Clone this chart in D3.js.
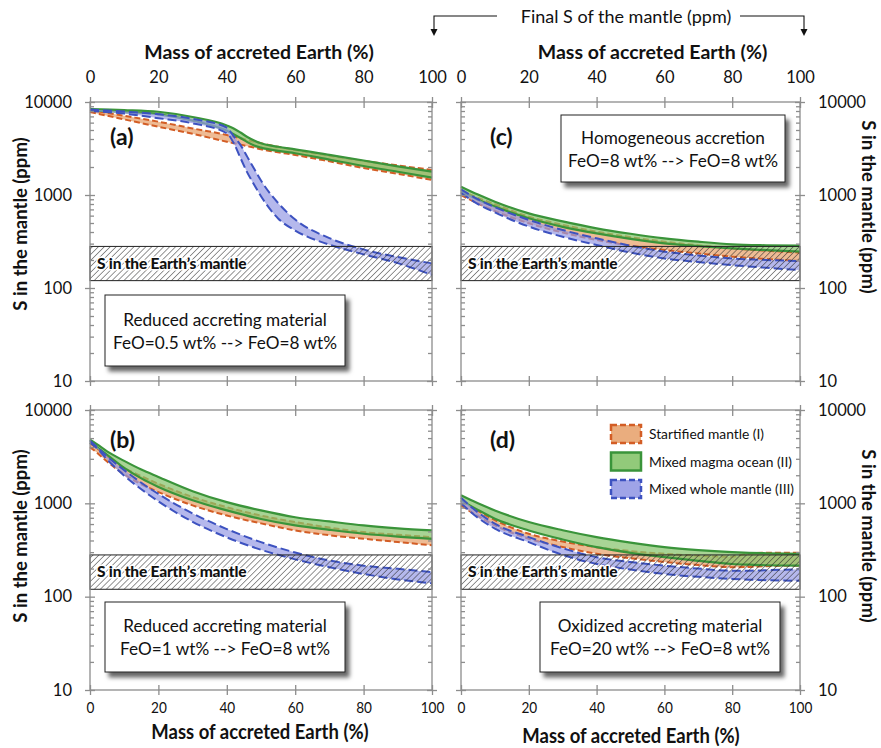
<!DOCTYPE html>
<html><head><meta charset="utf-8">
<script src="https://cdn.jsdelivr.net/npm/d3@7"></script>
<style>
body{margin:0;background:#fff}
svg{display:block}
text{font-family:Lato,"Open Sans",sans-serif;fill:#111}
</style>
</head><body>
<svg id="chart" width="881" height="748"></svg>
<script>
// ---------------- DATA ----------------
const xTicks = [0, 20, 40, 60, 80, 100];
const yTicks = [10, 100, 1000, 10000];
const earthBand = [120, 280];            // S in the Earth's mantle (ppm)

// panel (a)
const xA = [0,10,20,30,40,42,44,46,48,50,55,60,70,80,90,100];
const aOrangeHi = [8200,7100,6140,5200,4420,4250,4080,3900,3750,3600,3300,3050,2650,2330,2080,1860];
const aOrangeLo = [7800,6500,5420,4550,3740,3600,3480,3350,3230,3100,2880,2690,2300,1950,1690,1450];
const aGreenHi  = [8400,8200,7860,6900,5600,5200,4700,4200,3850,3600,3300,3100,2700,2350,2030,1780];
const aGreenLo  = [8100,7800,7370,6300,4900,4500,4100,3700,3400,3230,2980,2810,2400,2050,1780,1540];
const aBlueHi   = [8300,7900,7400,6600,5300,4300,3460,2570,1910,1430,820,545,344,260,215,184];
const aBlueLo   = [8000,7500,6700,5900,4600,3630,2500,1740,1290,970,560,415,292,230,185,138];

// panel (b)
const xB = [0,2,5,10,15,20,30,40,50,60,70,80,90,100];
const bOrangeHi = [4400,3900,3200,2400,1950,1620,1170,910,740,630,550,492,460,435];
const bOrangeLo = [4000,3500,2800,2050,1600,1320,950,740,610,512,455,417,385,355];
const bGreenHi  = [4800,4300,3600,2850,2300,1920,1350,1030,840,710,640,580,540,512];
const bGreenLo  = [4500,4000,3300,2400,1850,1500,1080,840,680,580,520,472,440,417];
const bBlueHi   = [4700,4030,3190,2270,1660,1260,780,530,384,297,244,215,199,183];
const bBlueLo   = [4500,3900,2950,1980,1415,1050,634,432,318,251,207,175,153,139];

// panel (c)
const xC = [0,5,10,20,30,40,50,60,70,80,90,100];
const cOrangeHi = [1120,930,795,585,478,403,352,315,288,267,252,240];
const cOrangeLo = [1000,810,673,496,395,328,285,256,235,217,205,195];
const cGreenHi  = [1230,1010,847,635,520,438,383,342,315,295,288,285];
const cGreenLo  = [1087,890,750,562,455,387,338,302,282,267,255,246];
const cBlueHi   = [1150,900,740,540,420,342,285,246,224,208,200,195];
const cBlueLo   = [1050,800,650,458,355,290,240,208,190,176,165,156];

// panel (d)
const xD = [0,5,10,20,30,40,50,60,70,80,85,90,100];
const dOrangeHi = [1077,830,660,472,390,339,308,288,275,268,290,295,295];
const dOrangeLo = [950,730,580,417,340,288,258,235,218,207,208,212,215];
const dGreenHi  = [1220,1000,840,630,515,435,380,339,315,300,295,292,288];
const dGreenLo  = [1077,850,685,512,410,339,295,265,242,224,220,217,215];
const dBlueHi   = [1150,800,605,435,330,265,235,215,200,190,190,192,197];
const dBlueLo   = [1000,700,535,384,280,224,195,175,163,155,152,150,148];

const seriesNames = ["Startified mantle (I)", "Mixed magma ocean (II)", "Mixed whole mantle (III)"];
const panelLetters = ["(a)", "(b)", "(c)", "(d)"];
const boxTexts = [
  ["Reduced accreting material", "FeO=0.5 wt% --> FeO=8 wt%"],
  ["Reduced accreting material", "FeO=1 wt% --> FeO=8 wt%"],
  ["Homogeneous accretion", "FeO=8 wt% --> FeO=8 wt%"],
  ["Oxidized accreting material", "FeO=20 wt% --> FeO=8 wt%"]
];
const xTitle = "Mass of accreted Earth (%)";
const yTitle = "S in the mantle (ppm)";
const bandLabel = "S in the Earth\u2019s mantle";
const topNote = "Final S of the mantle (ppm)";

// ---------------- LAYOUT / STYLE ----------------
const styles = [
  {fill:"#e8a470", fo:0.75, stroke:"#d35d25", dash:"6,3", w:2},
  {fill:"#86c46c", fo:0.72, stroke:"#3a943a", dash:null, w:2.2},
  {fill:"#959ae4", fo:0.7, stroke:"#3d52c0", dash:"9,4", w:2}
];
const panels = [
  {x0:90, x1:432, y0:102, y1:381, xs:xA, ser:[[aOrangeHi,aOrangeLo],[aGreenHi,aGreenLo],[aBlueHi,aBlueLo]],
   side:"left", topLab:true, botLab:false, letter:[110,137], box:[105,295,240,71], yTitleC:224},
  {x0:90, x1:432, y0:410, y1:690, xs:xB, ser:[[bOrangeHi,bOrangeLo],[bGreenHi,bGreenLo],[bBlueHi,bBlueLo]],
   side:"left", topLab:false, botLab:true, letter:[110,440], box:[105,602,240,70], xTitleC:[260,739], yTitleC:536},
  {x0:461, x1:800, y0:102, y1:381, xs:xC, ser:[[cOrangeHi,cOrangeLo],[cGreenHi,cGreenLo],[cBlueHi,cBlueLo]],
   side:"right", topLab:true, botLab:false, letter:[490,137], box:[561,115,224,67], yTitleC:207},
  {x0:461, x1:800, y0:410, y1:690, xs:xD, ser:[[dOrangeHi,dOrangeLo],[dGreenHi,dGreenLo],[dBlueHi,dBlueLo]],
   side:"right", topLab:false, botLab:true, letter:[490,440], box:[540,602,240,70], xTitleC:[631,743], yTitleC:536}
];
const axisColor = "#8d8d8d";

const svg = d3.select("#chart");
const defs = svg.append("defs");
const pat = defs.append("pattern").attr("id","hatch").attr("patternUnits","userSpaceOnUse")
  .attr("width",4.2).attr("height",4.2).attr("patternTransform","rotate(45)");
pat.append("line").attr("x1",0).attr("y1",0).attr("x2",0).attr("y2",4.2)
  .attr("stroke","#2a2a2a").attr("stroke-width",1);
const filt = defs.append("filter").attr("id","shadow").attr("x","-10%").attr("y","-10%")
  .attr("width","130%").attr("height","150%");
filt.append("feDropShadow").attr("dx",4).attr("dy",5).attr("stdDeviation",2.2)
  .attr("flood-color","#000").attr("flood-opacity",0.6);

const minorVals = [];
[10,100,1000].forEach(d => { for (let m=2;m<10;m++) minorVals.push(m*d); });

panels.forEach((p, pi) => {
  const x = d3.scaleLinear().domain([0,100]).range([p.x0,p.x1]);
  const y = d3.scaleLog().domain([10,10000]).range([p.y1,p.y0]);
  const g = svg.append("g");

  // series bands
  p.ser.forEach((s, si) => {
    const st = styles[si];
    const pts = p.xs.map((xv,i)=>({x:xv, hi:s[0][i], lo:s[1][i]}));
    const area = d3.area().curve(d3.curveMonotoneX).x(d=>x(d.x)).y0(d=>y(d.lo)).y1(d=>y(d.hi));
    g.append("path").attr("d",area(pts)).attr("fill",st.fill).attr("fill-opacity",st.fo);
    ["hi","lo"].forEach(k => {
      const line = d3.line().curve(d3.curveMonotoneX).x(d=>x(d.x)).y(d=>y(d[k]));
      g.append("path").attr("d",line(pts)).attr("fill","none").attr("stroke",st.stroke)
        .attr("stroke-width",st.w).attr("stroke-dasharray",st.dash);
    });
  });

  // Earth's mantle hatched band
  g.append("rect").attr("x",p.x0).attr("y",y(earthBand[1]))
    .attr("width",p.x1-p.x0).attr("height",y(earthBand[0])-y(earthBand[1]))
    .attr("fill","url(#hatch)").attr("stroke","#222").attr("stroke-width",1);
  g.append("text").attr("x",p.x0+7).attr("y",(y(earthBand[0])+y(earthBand[1]))/2+5)
    .attr("font-size",15.5).attr("font-weight",900).attr("letter-spacing",-0.2)
    .attr("fill","#222").attr("stroke","#fff").attr("stroke-width",3)
    .attr("paint-order","stroke").attr("stroke-linejoin","round").text(bandLabel);

  // frame
  g.append("rect").attr("x",p.x0).attr("y",p.y0).attr("width",p.x1-p.x0).attr("height",p.y1-p.y0)
    .attr("fill","none").attr("stroke",axisColor).attr("stroke-width",1.3);

  const styleAxis = sel => { sel.select(".domain").remove();
    sel.selectAll("line").attr("stroke",axisColor).attr("stroke-width",1.3);
    sel.selectAll("text").attr("font-size",16.5).attr("fill","#111").attr("font-family","Lato"); };

  // y axes (left and right), majors crossing, minors inside
  [["left",p.x0,d3.axisLeft],["right",p.x1,d3.axisRight]].forEach(([side,xp,fn]) => {
    const lab = side===p.side;
    g.append("g").attr("transform",`translate(${xp},0)`)
      .call(fn(y).tickValues(yTicks).tickSize(5).tickPadding(13)
        .tickFormat(lab ? d3.format("d") : ""))
      .call(styleAxis);
    g.append("g").attr("transform",`translate(${xp},0)`)
      .call(fn(y).tickValues(yTicks).tickSize(-5).tickFormat("")).call(styleAxis);
    g.append("g").attr("transform",`translate(${xp},0)`)
      .call(fn(y).tickValues(minorVals).tickSize(-4).tickFormat("")).call(styleAxis);
  });
  // x axes (top and bottom)
  g.append("g").attr("transform",`translate(0,${p.y0})`)
    .call(d3.axisTop(x).tickValues(xTicks).tickSize(5).tickPadding(14)
      .tickFormat(p.topLab ? d3.format("d") : "")).call(styleAxis);
  g.append("g").attr("transform",`translate(0,${p.y0})`)
    .call(d3.axisTop(x).tickValues(xTicks).tickSize(-6).tickFormat("")).call(styleAxis);
  const bax = g.append("g").attr("transform",`translate(0,${p.y1})`)
    .call(d3.axisBottom(x).tickValues(xTicks).tickSize(5).tickPadding(7)
      .tickFormat(p.botLab ? d3.format("d") : "")).call(styleAxis);
  bax.selectAll("text").attr("font-size",16).attr("transform","scale(0.85,1)");
  g.append("g").attr("transform",`translate(0,${p.y1})`)
    .call(d3.axisBottom(x).tickValues(xTicks).tickSize(-5).tickFormat("")).call(styleAxis);

  // x titles
  if (p.topLab) {
    g.append("text").attr("x",(p.x0+p.x1)/2 + (pi===0?-2:22)).attr("y",59)
      .attr("text-anchor","middle").attr("font-size",19.5).attr("font-weight",700).text(xTitle);
  }
  if (p.botLab) {
    g.append("text").attr("transform",`translate(${p.xTitleC[0]},${p.xTitleC[1]}) scale(0.88,1)`)
      .attr("text-anchor","middle").attr("font-size",21).attr("font-weight",700).text(xTitle);
  }
  // y titles
  if (p.side==="left") {
    g.append("text").attr("transform",`translate(27,${p.yTitleC}) rotate(-90)`)
      .attr("text-anchor","middle").attr("font-size",18.5).attr("font-weight",700).text(yTitle);
  } else {
    g.append("text").attr("transform",`translate(862,${p.yTitleC}) rotate(90)`)
      .attr("text-anchor","middle").attr("font-size",18.5).attr("font-weight",700).text(yTitle);
  }

  // panel letter
  g.append("text").attr("x",p.letter[0]).attr("y",p.letter[1]+8)
    .attr("font-size",23).attr("font-weight",700).text(panelLetters[pi]);

  // text box
  const [bx,by,bw,bh] = p.box;
  g.append("rect").attr("x",bx).attr("y",by).attr("width",bw).attr("height",bh)
    .attr("fill","#fff").attr("stroke","#222").attr("stroke-width",1).attr("filter","url(#shadow)");
  boxTexts[pi].forEach((t,i) => {
    g.append("text").attr("x",bx+bw/2).attr("y",by+bh/2-5+i*23)
      .attr("text-anchor","middle").attr("font-size",17.2).text(t);
  });
});

// legend (panel d)
const lg = svg.append("g");
seriesNames.forEach((n,i) => {
  const st = styles[i];
  const yy = 425 + i*27.5;
  lg.append("rect").attr("x",611).attr("y",yy).attr("width",30).attr("height",18)
    .attr("fill",st.fill).attr("fill-opacity",0.9).attr("stroke",st.stroke).attr("stroke-width",2.5)
    .attr("stroke-dasharray",st.dash ? "6,3" : null);
  lg.append("text").attr("x",649).attr("y",yy+14).attr("font-size",13.8).text(n);
});

// top annotation
const ann = svg.append("g");
ann.append("text").attr("x",626).attr("y",23).attr("text-anchor","middle").attr("font-size",18).text(topNote);
ann.append("path").attr("d","M497,16 H434 V31").attr("fill","none").attr("stroke","#111").attr("stroke-width",1.1);
ann.append("path").attr("d","M740,16 H804 V31").attr("fill","none").attr("stroke","#111").attr("stroke-width",1.1);
ann.append("path").attr("d","M430.5,29 L437.5,29 L434,36 Z").attr("fill","#111");
ann.append("path").attr("d","M800.5,29 L807.5,29 L804,36 Z").attr("fill","#111");
</script>
</body></html>
